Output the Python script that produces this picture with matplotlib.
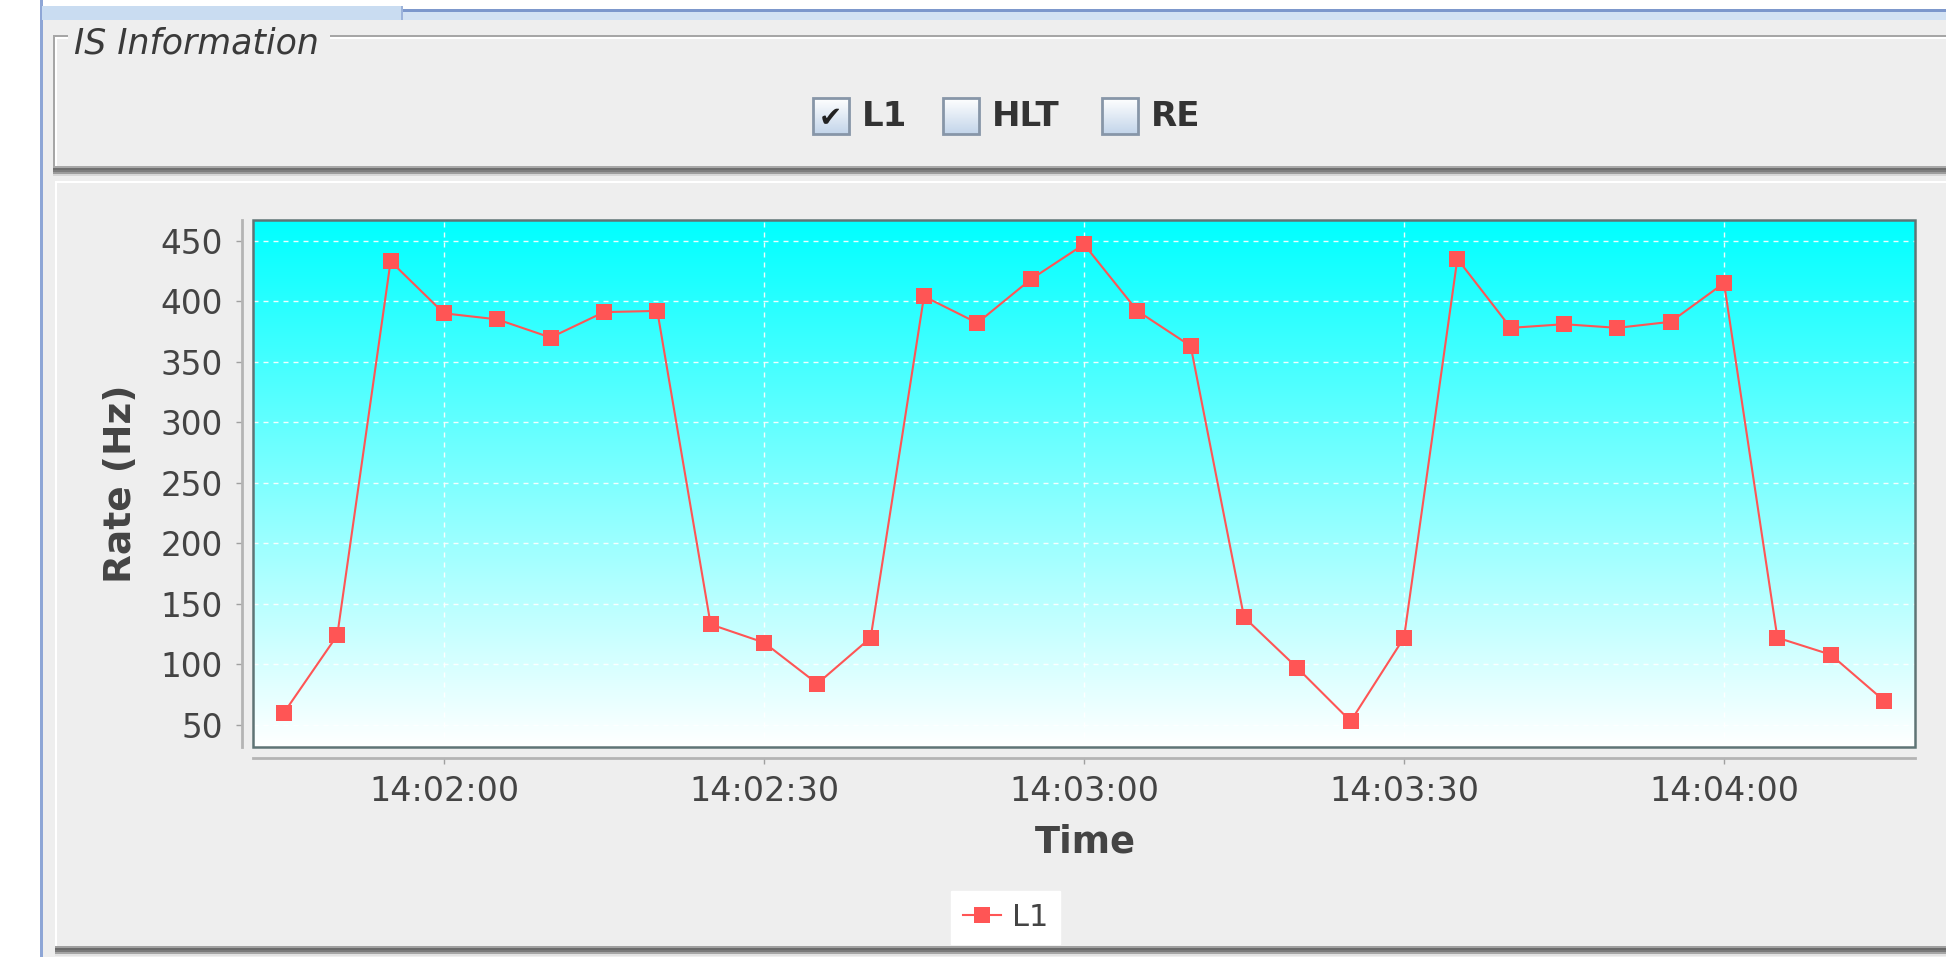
import numpy as np
import pandas as pd
import matplotlib
matplotlib.use("Agg")
import matplotlib.pyplot as plt
import matplotlib.dates as mdates
from matplotlib.colors import LinearSegmentedColormap
from matplotlib.patches import Rectangle

W, H = 1946, 957

# L1 rate sampled every 5 s
TIMES = ["14:01:45", "14:01:50", "14:01:55", "14:02:00", "14:02:05", "14:02:10",
         "14:02:15", "14:02:20", "14:02:25", "14:02:30", "14:02:35", "14:02:40",
         "14:02:45", "14:02:50", "14:02:55", "14:03:00", "14:03:05", "14:03:10",
         "14:03:15", "14:03:20", "14:03:25", "14:03:30", "14:03:35", "14:03:40",
         "14:03:45", "14:03:50", "14:03:55", "14:04:00", "14:04:05", "14:04:10",
         "14:04:15"]
RATE_L1 = [60, 124, 433, 390, 385, 370,
           391, 392, 133, 118, 84, 122,
           404, 382, 418, 447, 392, 363,
           139, 97, 53, 122, 435, 378,
           381, 378, 383, 415, 122, 108,
           70]
Y_TICKS = [50, 100, 150, 200, 250, 300, 350, 400, 450]
X_TICKS = ["14:02:00", "14:02:30", "14:03:00", "14:03:30", "14:04:00"]
CHECKBOXES = ["L1", "HLT", "RE"]
CHECKED = [True, False, False]

LINE_RED = "#FF5555"
PANEL_BG = "#EEEEEE"
TEXT_COL = "#444444"


def to_num(labels):
    return mdates.date2num(pd.to_datetime(["2000-01-01 " + s for s in labels]))


def hline(ax, x0, x1, y, h, color):
    ax.add_patch(Rectangle((x0, y), x1 - x0, h, color=color, lw=0))


def vline(ax, x, y0, y1, w, color):
    ax.add_patch(Rectangle((x, y0), w, y1 - y0, color=color, lw=0))


def draw_chrome(bg):
    # window area
    bg.add_patch(Rectangle((42, 20), W - 42, H - 20, color=PANEL_BG, lw=0))
    vline(bg, 40, 0, H, 2.5, "#8EA6D6")
    # tab strip
    hline(bg, 42, 402, 6, 14, "#C9DCF1")
    hline(bg, 402, W, 9, 3, "#7D98CC")
    hline(bg, 402, W, 12, 8, "#D3E2F3")
    vline(bg, 401, 6, 20, 1.5, "#9DB3DA")

    # "IS Information" titled border
    hline(bg, 53, W, 35, 1.5, "#A6A6A6")
    hline(bg, 55, W, 37, 1.5, "white")
    vline(bg, 53, 35, 170, 1.5, "#A6A6A6")
    vline(bg, 55, 37, 168, 1.5, "white")
    for y, c in [(166, "#A8A8A8"), (168, "#6F6F6F"), (170, "#7D7D7D"),
                 (172, "#9C9C9C"), (174, "#D6D6D6")]:
        hline(bg, 53, W, y, 2, c)
    hline(bg, 68, 330, 33, 6, PANEL_BG)
    bg.text(74, 43, "IS Information", fontsize=25, style="italic",
            color="#3A3A3A", va="center", ha="left")

    # checkboxes
    grad = np.linspace(0, 1, 64).reshape(-1, 1)
    box_cmap = LinearSegmentedColormap.from_list("box", ["#FFFFFF", "#C3D5EA"])
    box_x = [813, 943, 1102]
    for bx, label, checked in zip(box_x, CHECKBOXES, CHECKED):
        bg.imshow(grad, cmap=box_cmap, extent=(bx, bx + 36, 134, 98),
                  aspect="auto", zorder=2, interpolation="bilinear")
        bg.add_patch(Rectangle((bx, 98), 36, 36, fill=False,
                               edgecolor="#8796A8", lw=2, zorder=3))
        if checked:
            bg.text(bx + 17, 118, "\u2714", fontsize=20, color="#222222",
                    ha="center", va="center", zorder=4)
        bg.text(bx + 49, 117, label, fontsize=24.5, fontweight="bold",
                color="#333333", ha="left", va="center")

    # chart panel border
    hline(bg, 55, W, 181, 2, "white")
    vline(bg, 55, 181, 948, 2, "white")
    for y, c in [(946, "#A0A0A0"), (948, "#6A6A6A"), (950, "#7A7A7A"),
                 (952, "#A5A5A5"), (954, "#E2E2E2")]:
        hline(bg, 55, W, y, 2, c)

    bg.set_xlim(0, W)
    bg.set_ylim(H, 0)


def main():
    fig = plt.figure(figsize=(W / 100, H / 100), dpi=100, facecolor="white")

    bg = fig.add_axes([0, 0, 1, 1], zorder=0)
    bg.axis("off")
    draw_chrome(bg)

    # plot area in pixels: x 253..1915, y 220..747
    left, right, top, bottom = 253, 1915, 220, 747
    ax = fig.add_axes([left / W, 1 - bottom / H, (right - left) / W, (bottom - top) / H],
                      zorder=1)

    t = to_num(TIMES)
    pad = 2.9 / 86400
    ax.set_xlim(t[0] - pad, t[-1] + pad)
    ax.set_ylim(31.7, 467.1)

    # cyan to white gradient background
    grad = np.linspace(0, 1, 256).reshape(-1, 1)
    cmap = LinearSegmentedColormap.from_list("plotbg", ["#FFFFFF", "#00FFFF"])
    ax.imshow(grad, cmap=cmap, extent=(0, 1, 0, 1), transform=ax.transAxes,
              origin="lower", aspect="auto", zorder=0, interpolation="bilinear")
    ax.set_facecolor("none")

    ax.set_yticks(Y_TICKS)
    ax.set_xticks(to_num(X_TICKS))
    ax.xaxis.set_major_formatter(mdates.DateFormatter("%H:%M:%S"))

    ax.grid(True, color="white", lw=1.0, ls=(0, (3.6, 3.6)), alpha=0.9, zorder=1)

    ax.plot(t, RATE_L1, color=LINE_RED, lw=1.5, marker="s", markersize=12,
            markeredgewidth=0, label="L1", zorder=3)

    # plot outline
    ax.add_patch(Rectangle((0, 0), 1, 1, transform=ax.transAxes, fill=False,
                           edgecolor="#5F7475", lw=1.8, zorder=4, clip_on=False))

    for side in ["top", "right"]:
        ax.spines[side].set_visible(False)
    for side in ["left", "bottom"]:
        ax.spines[side].set_position(("outward", 8))
        ax.spines[side].set_color("#B4B4B4")
        ax.spines[side].set_linewidth(2)

    ax.tick_params(axis="both", colors="#A0A0A0", length=4.5, width=1,
                   labelcolor=TEXT_COL)
    ax.tick_params(axis="y", labelsize=23.5, pad=9)
    ax.tick_params(axis="x", labelsize=24, pad=8)

    fig.text(1085 / W, 1 - 842 / H, "Time", fontsize=26.5, fontweight="bold",
             color=TEXT_COL, ha="center", va="center")
    fig.text(121 / W, 1 - 484 / H, "Rate (Hz)", fontsize=27, fontweight="bold",
             color=TEXT_COL, ha="center", va="center", rotation=90)

    leg = ax.legend(loc="center", bbox_to_anchor=(1005.5 / W, 1 - 917.5 / H),
                    bbox_transform=fig.transFigure, frameon=True, fancybox=False,
                    fontsize=22, handlelength=1.25, handletextpad=0.35,
                    borderpad=0.4, borderaxespad=0)
    leg.get_frame().set_facecolor("white")
    leg.get_frame().set_edgecolor("white")
    leg.get_frame().set_alpha(1)
    for txt in leg.get_texts():
        txt.set_color(TEXT_COL)

    fig.savefig("out.png", dpi=100, facecolor=fig.get_facecolor())
    plt.close(fig)


if __name__ == "__main__":
    main()
